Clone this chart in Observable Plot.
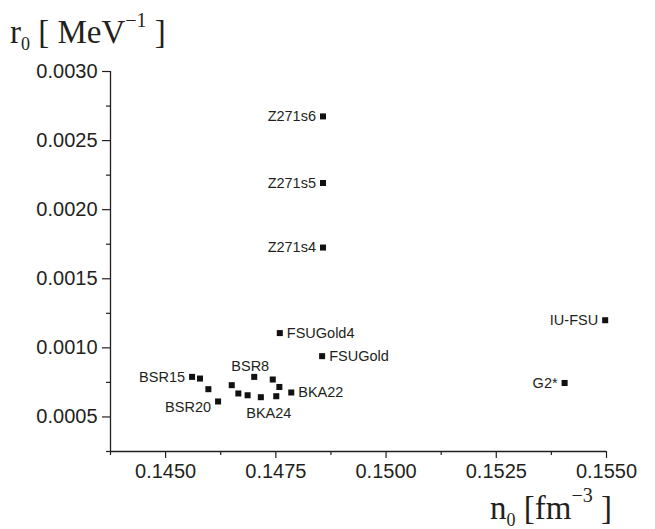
<!DOCTYPE html>
<html>
<head>
<meta charset="utf-8">
<script src="https://cdn.jsdelivr.net/npm/d3@7"></script>
<script src="https://cdn.jsdelivr.net/npm/@observablehq/plot@0.6"></script>
<style>
  html, body { margin: 0; padding: 0; background: #fff; }
  #chart { width: 655px; height: 529px; }
</style>
</head>
<body>
<div id="chart"></div>
<script>
// Model names ("" = unlabeled point in the cluster)
const names = ["Z271s6", "Z271s5", "Z271s4", "FSUGold4", "FSUGold", "IU-FSU", "G2*",
  "BSR15", "", "", "BSR20", "", "", "", "BSR8", "BKA24", "", "", "", "BKA22"];
// saturation density n0 [fm^-3]
const n0 = [0.14857, 0.14857, 0.14857, 0.14759, 0.14855, 0.15497, 0.15405,
  0.14560, 0.14578, 0.14597, 0.14619, 0.14650, 0.14665, 0.14686, 0.14701, 0.14716, 0.14743, 0.14758, 0.14751, 0.14785];
// r0 [MeV^-1]
const r0 = [0.002675, 0.002193, 0.001726, 0.001107, 0.000940, 0.001200, 0.000746,
  0.000790, 0.000778, 0.000701, 0.000612, 0.000730, 0.000670, 0.000657, 0.000790, 0.000643, 0.000771, 0.000717, 0.000650, 0.000677];

const yTicks = [0.0005, 0.0010, 0.0015, 0.0020, 0.0025, 0.0030];
const yMinor = [0.00025, 0.00075, 0.00125, 0.00175, 0.00225, 0.00275];
const xTicks = [0.1450, 0.1475, 0.1500, 0.1525, 0.1550];
const xMinor = [0.14375, 0.14625, 0.14875, 0.15125, 0.15375];

const points = n0.map((x, i) => ({n0: x, r0: r0[i], name: names[i]}));

const leftNames = ["Z271s6", "Z271s5", "Z271s4", "IU-FSU", "G2*", "BSR15"];
const rightNames = ["FSUGold4", "FSUGold", "BKA22"];
const ink = "#231f20";
const labelFont = 14.5;

const chart = Plot.plot({
  width: 655,
  height: 529,
  marginLeft: 110,
  marginRight: 49,
  marginTop: 71,
  marginBottom: 78,
  style: {fontFamily: "'Liberation Sans', Arial, sans-serif", background: "#fff", color: ink},
  x: {domain: [0.14375, 0.155]},
  y: {domain: [0.00025, 0.0030]},
  marks: [
    Plot.ruleX([0.14375], {stroke: ink, strokeWidth: 1.3}),
    Plot.ruleY([0.00025], {stroke: ink, strokeWidth: 1.3}),
    Plot.axisY({ticks: yTicks, tickSize: 8, tickPadding: 5, tickFormat: d => d.toFixed(4), fontSize: 20, label: null, stroke: ink, strokeWidth: 1.2, fill: ink}),
    Plot.axisY({ticks: yMinor, tickSize: 4, text: null, label: null, stroke: ink, strokeWidth: 1.2}),
    Plot.axisX({ticks: xTicks, tickSize: 7, tickPadding: 5, tickFormat: d => d.toFixed(4), fontSize: 20, label: null, stroke: ink, strokeWidth: 1.2, fill: ink}),
    Plot.axisX({ticks: xMinor, tickSize: 4, text: null, label: null, stroke: ink, strokeWidth: 1.2}),
    Plot.dot(points, {x: "n0", y: "r0", symbol: "square", r: 3.4, fill: "#111", stroke: null}),
    Plot.text(points.filter(d => leftNames.includes(d.name)), {x: "n0", y: "r0", text: "name", textAnchor: "end", dx: -7, fontSize: labelFont, fill: ink}),
    Plot.text(points.filter(d => rightNames.includes(d.name)), {x: "n0", y: "r0", text: "name", textAnchor: "start", dx: 7, fontSize: labelFont, fill: ink}),
    Plot.text(points.filter(d => d.name === "BSR20"), {x: "n0", y: "r0", text: "name", textAnchor: "end", dx: -7, dy: 6, fontSize: labelFont, fill: ink}),
    Plot.text(points.filter(d => d.name === "BSR8"), {x: "n0", y: "r0", text: "name", textAnchor: "middle", dx: -4, dy: -11, fontSize: labelFont, fill: ink}),
    Plot.text(points.filter(d => d.name === "BKA24"), {x: "n0", y: "r0", text: "name", textAnchor: "middle", dx: 8, dy: 16, fontSize: labelFont, fill: ink})
  ]
});

const svg = d3.select(chart);
const serif = "'Liberation Serif', 'Times New Roman', serif";

// y-axis title: r0 [ MeV^-1 ]
const yt = svg.append("text").attr("x", 10).attr("y", 43).attr("text-anchor", "start")
  .attr("font-family", serif).attr("font-size", 33).attr("fill", ink);
yt.append("tspan").text("r");
yt.append("tspan").attr("font-size", 18).attr("dy", 7).text("0");
yt.append("tspan").attr("dy", -7).text(" [ MeV");
yt.append("tspan").attr("font-size", 20).attr("dy", -16).text("\u22121");
yt.append("tspan").attr("dy", 16).text(" ]");

// x-axis title: n0 [fm^-3 ]
const xt = svg.append("text").attr("x", 490).attr("y", 519).attr("text-anchor", "start")
  .attr("font-family", serif).attr("font-size", 33).attr("fill", ink);
xt.append("tspan").text("n");
xt.append("tspan").attr("font-size", 18).attr("dy", 7).text("0");
xt.append("tspan").attr("dy", -7).text(" [fm");
xt.append("tspan").attr("font-size", 20).attr("dy", -17).text("\u22123");
xt.append("tspan").attr("dy", 17).text(" ]");

document.getElementById("chart").appendChild(chart);
</script>
</body>
</html>
